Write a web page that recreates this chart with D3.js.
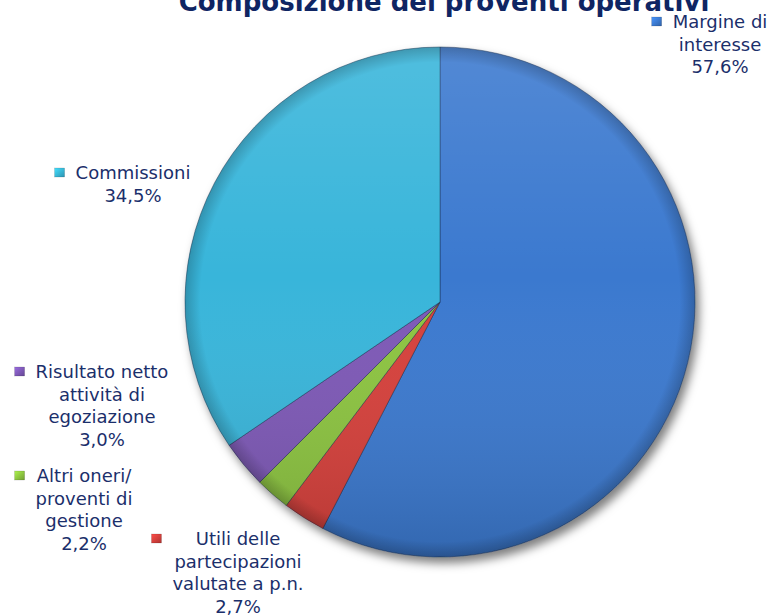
<!DOCTYPE html>
<html>
<head>
<meta charset="utf-8">
<script src="https://cdn.jsdelivr.net/npm/d3@7"></script>
<style>
  html, body { margin: 0; padding: 0; background: #ffffff; }
  svg { display: block; }
</style>
</head>
<body>
<svg id="chart" width="771" height="616"></svg>
<script>
// ---- data ----
const title = "Composizione dei proventi operativi";
const categories = ["Margine di interesse", "Utili delle partecipazioni valutate a p.n.", "Altri oneri/ proventi di gestione", "Risultato netto attività di egoziazione", "Commissioni"];
const values = [57.6, 2.7, 2.2, 3.0, 34.5];
const labelLines = [
  ["Margine di", "interesse"],
  ["Utili delle", "partecipazioni", "valutate a p.n."],
  ["Altri oneri/", "proventi di", "gestione"],
  ["Risultato netto", "attività di", "egoziazione"],
  ["Commissioni"]
];
// ---- styles / layout ----
const colors = ["#3b79cf", "#d63f3b", "#8cc43f", "#7d58b6", "#37b5da"];
const labelAnchors = [[720, 28], [238, 545], [84, 482], [102, 378], [133, 179]];
const lineHeight = 22.7;
const cx = 440, cy = 302, R = 255;

const svg = d3.select("#chart");
const defs = svg.append("defs");

const shadow = defs.append("filter").attr("id", "shadow")
  .attr("x", "-20%").attr("y", "-20%").attr("width", "140%").attr("height", "140%");
shadow.append("feDropShadow").attr("dx", 4).attr("dy", 6).attr("stdDeviation", 5)
  .attr("flood-color", "#000").attr("flood-opacity", 0.5);

const shade = defs.append("linearGradient").attr("id", "shade")
  .attr("x1", 0).attr("y1", 0).attr("x2", 0).attr("y2", 1);
shade.append("stop").attr("offset", "0%").attr("stop-color", "#fff").attr("stop-opacity", 0.12);
shade.append("stop").attr("offset", "45%").attr("stop-color", "#fff").attr("stop-opacity", 0);
shade.append("stop").attr("offset", "100%").attr("stop-color", "#000").attr("stop-opacity", 0.15);

const rim = defs.append("radialGradient").attr("id", "rim")
  .attr("cx", "50%").attr("cy", "50%").attr("r", "50%");
rim.append("stop").attr("offset", "94%").attr("stop-color", "#000").attr("stop-opacity", 0);
rim.append("stop").attr("offset", "100%").attr("stop-color", "#000").attr("stop-opacity", 0.2);

// marker gradients
colors.forEach((c, i) => {
  const g = defs.append("linearGradient").attr("id", "mk" + i)
    .attr("x1", 0).attr("y1", 0).attr("x2", 1).attr("y2", 1);
  g.append("stop").attr("offset", "0%").attr("stop-color", d3.color(c).brighter(0.6));
  g.append("stop").attr("offset", "100%").attr("stop-color", d3.color(c).darker(0.6));
});

// title
svg.append("text")
  .attr("x", 444).attr("y", 11)
  .attr("text-anchor", "middle")
  .attr("font-family", "DejaVu Sans, Verdana, sans-serif")
  .attr("font-weight", "bold")
  .attr("font-size", 26)
  .attr("fill", "#0f2563")
  .text(title);

// pie
const pie = d3.pie().sort(null).value(d => d)(values);
const arc = d3.arc().innerRadius(0).outerRadius(R);

const pg = svg.append("g").attr("transform", `translate(${cx},${cy})`);
const sliceG = pg.append("g").attr("filter", "url(#shadow)");
sliceG.selectAll("path").data(pie).join("path")
  .attr("d", arc)
  .attr("fill", (d, i) => colors[i])
  .attr("stroke", "rgba(20,40,70,0.55)")
  .attr("stroke-width", 0.8)
  .attr("stroke-linejoin", "round");

pg.append("circle").attr("r", R).attr("fill", "url(#shade)").attr("pointer-events", "none");
pg.append("circle").attr("r", R).attr("fill", "url(#rim)").attr("pointer-events", "none");

// labels
const locale = d3.formatLocale({decimal: ",", thousands: ".", grouping: [3], currency: ["€", ""]});
const fmt = locale.format(".1f");

categories.forEach((cat, i) => {
  const [ax, ay] = labelAnchors[i];
  const lines = labelLines[i].concat([fmt(values[i]) + "%"]);
  const t = svg.append("text")
    .attr("text-anchor", "middle")
    .attr("font-family", "DejaVu Sans, Verdana, sans-serif")
    .attr("font-size", 18)
    .attr("fill", "#1b2f6b");
  lines.forEach((ln, k) => {
    t.append("tspan").attr("x", ax).attr("y", ay + k * lineHeight).text(ln);
  });
  const bb = t.node().getBBox();
  svg.append("rect")
    .attr("x", bb.x - 11 - 10).attr("y", ay - 11)
    .attr("width", 10).attr("height", 9)
    .attr("fill", `url(#mk${i})`)
    .attr("stroke", "rgba(0,0,0,0.25)").attr("stroke-width", 0.5);
});
</script>
</body>
</html>
